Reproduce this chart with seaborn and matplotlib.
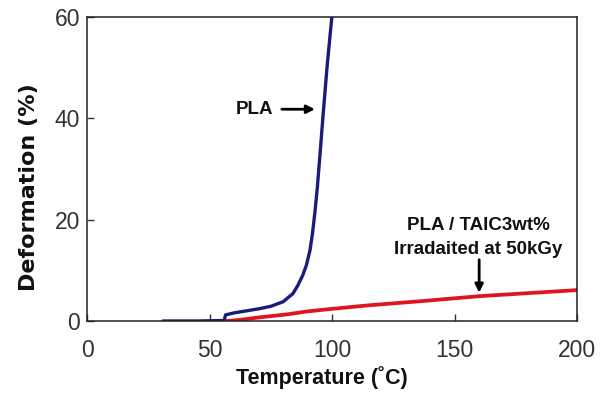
import numpy as np
import pandas as pd
import matplotlib
matplotlib.use("Agg")
import matplotlib.pyplot as plt
import seaborn as sns

# Data
pla_temp = [31, 45, 56, 56.5, 60, 65, 70, 75, 80, 84, 86, 88, 89.5, 91, 92, 93, 94, 95, 96.3, 98, 100]
pla_def = [0, 0, 0.1, 1.2, 1.6, 2.0, 2.4, 2.9, 3.8, 5.4, 7.0, 9.0, 11, 14, 17.3, 21.5, 26.5, 32.5, 40.5, 50.5, 60.5]

taic_temp = [57, 62, 70, 81.5, 90, 100, 115, 128, 136, 160, 180, 200]
taic_def = [0, 0.2, 0.7, 1.3, 1.9, 2.4, 3.1, 3.6, 3.9, 4.9, 5.5, 6.1]

x_ticks = [0, 50, 100, 150, 200]
y_ticks = [0, 20, 40, 60]

pla = pd.DataFrame({"T": pla_temp, "D": pla_def})
taic = pd.DataFrame({"T": taic_temp, "D": taic_def})

sns.set_theme(style="ticks")
plt.rcParams['font.family'] = ['Liberation Sans', 'DejaVu Sans']

fig, ax = plt.subplots(figsize=(6, 3.96), dpi=100)
fig.subplots_adjust(left=0.145, right=0.962, top=0.957, bottom=0.1894)

sns.lineplot(data=taic, x="T", y="D", ax=ax, color="#e0141e", lw=2.7)
sns.lineplot(data=pla, x="T", y="D", ax=ax, color="#1c1a7a", lw=2.4)

ax.set_xlim(0, 200)
ax.set_ylim(0, 60)
ax.set_xticks(x_ticks)
ax.set_yticks(y_ticks)
ax.tick_params(direction="in", length=5, width=1, labelsize=16.5, colors="#333333")
ax.tick_params(axis="x", pad=13)
ax.tick_params(axis="y", pad=5)
for s in ax.spines.values():
    s.set_linewidth(1.1)
    s.set_color("#222222")

ax.set_xlabel("Temperature (˚C)", fontsize=15.5, fontweight="bold", color="#111111")
ax.set_ylabel("Deformation (%)", fontsize=16, fontweight="bold", color="#111111",
              family=["DejaVu Sans"])
ax.xaxis.set_label_coords(0.4786, -0.149)
ax.yaxis.set_label_coords(-0.098, 0.442)

# annotations
ann_font = dict(fontsize=13.5, fontweight="bold", color="#111111")
ax.text(68.4, 41.8, "PLA", ha="center", va="center", **ann_font)
ax.annotate("", xy=(93, 41.8), xytext=(79.5, 41.8),
            arrowprops=dict(arrowstyle="-|>", color="black", lw=2, shrinkA=0, shrinkB=0))
ax.text(159.6, 18.8, "PLA / TAIC3wt%", ha="center", va="center", **ann_font)
ax.text(159.6, 14.1, "Irradaited at 50kGy", ha="center", va="center", **ann_font)
ax.annotate("", xy=(160, 5.6), xytext=(160, 12.1),
            arrowprops=dict(arrowstyle="-|>", color="black", lw=2, shrinkA=0, shrinkB=0))

fig.savefig("out.png", dpi=100)
